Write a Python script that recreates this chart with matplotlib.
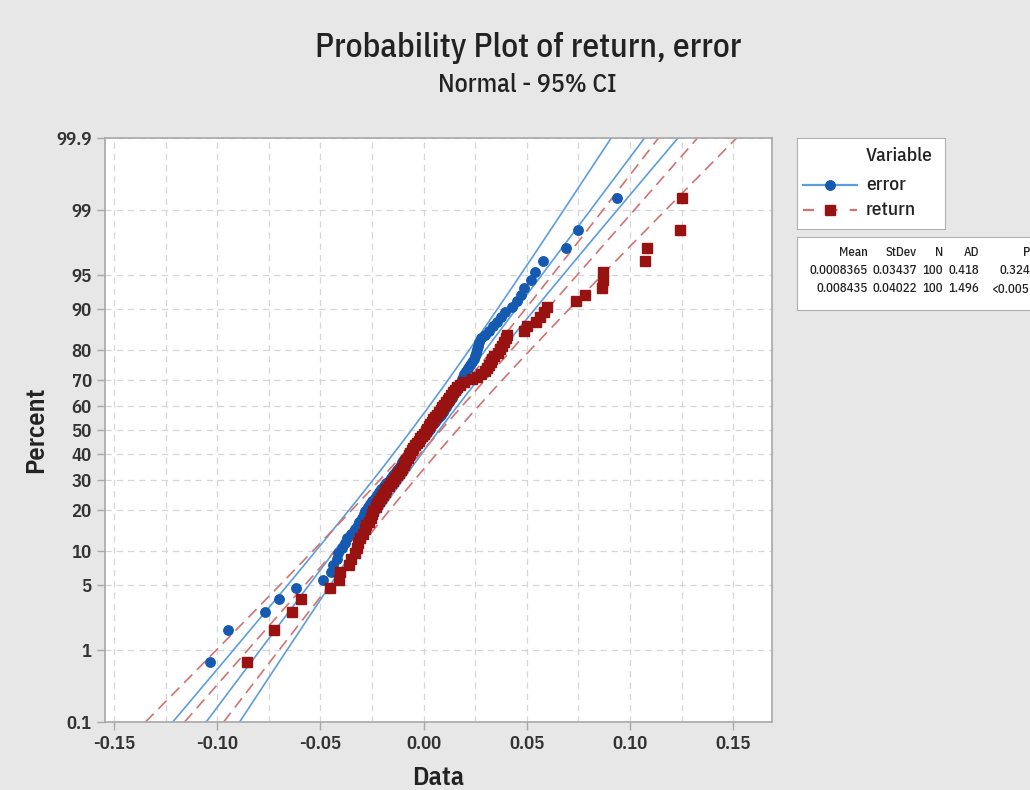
import matplotlib
matplotlib.use('Agg')
import matplotlib.pyplot as plt
from matplotlib.lines import Line2D
from matplotlib.ticker import MultipleLocator
from statistics import NormalDist
import numpy as np

# sorted sample values
error = [-0.1035, -0.0950, -0.0767, -0.0699, -0.0618, -0.0489, -0.0448, -0.0440, -0.0422, -0.0413,
         -0.0398, -0.0383, -0.0369, -0.0350, -0.0335, -0.0320, -0.0311, -0.0301, -0.0291, -0.0282,
         -0.0272, -0.0262, -0.0252, -0.0238, -0.0228, -0.0218, -0.0209, -0.0194, -0.0184, -0.0170,
         -0.0160, -0.0150, -0.0141, -0.0131, -0.0121, -0.0112, -0.0107, -0.0097, -0.0087, -0.0078,
         -0.0068, -0.0058, -0.0049, -0.0039, -0.0029, -0.0019, -0.0010, 0.0000, 0.0010, 0.0019,
         0.0029, 0.0034, 0.0044, 0.0053, 0.0063, 0.0073, 0.0083, 0.0092, 0.0097, 0.0107,
         0.0112, 0.0121, 0.0126, 0.0136, 0.0141, 0.0150, 0.0160, 0.0165, 0.0170, 0.0180,
         0.0184, 0.0189, 0.0194, 0.0204, 0.0214, 0.0223, 0.0233, 0.0243, 0.0248, 0.0252,
         0.0257, 0.0262, 0.0267, 0.0277, 0.0296, 0.0316, 0.0335, 0.0354, 0.0374, 0.0393,
         0.0427, 0.0451, 0.0471, 0.0485, 0.0519, 0.0539, 0.0578, 0.0689, 0.0748, 0.0937]

ret = [-0.0858, -0.0723, -0.0637, -0.0594, -0.0456, -0.0408, -0.0405, -0.0364, -0.0350, -0.0335,
       -0.0325, -0.0316, -0.0306, -0.0296, -0.0286, -0.0277, -0.0267, -0.0257, -0.0252, -0.0243,
       -0.0233, -0.0228, -0.0218, -0.0209, -0.0199, -0.0189, -0.0180, -0.0170, -0.0160, -0.0150,
       -0.0141, -0.0131, -0.0121, -0.0112, -0.0107, -0.0097, -0.0092, -0.0087, -0.0078, -0.0073,
       -0.0068, -0.0058, -0.0053, -0.0044, -0.0034, -0.0024, -0.0019, -0.0010, 0.0000, 0.0010,
       0.0015, 0.0024, 0.0029, 0.0039, 0.0044, 0.0053, 0.0063, 0.0073, 0.0083, 0.0087,
       0.0097, 0.0107, 0.0117, 0.0121, 0.0131, 0.0141, 0.0150, 0.0160, 0.0175, 0.0194,
       0.0233, 0.0257, 0.0277, 0.0296, 0.0306, 0.0316, 0.0325, 0.0330, 0.0340, 0.0359,
       0.0369, 0.0379, 0.0388, 0.0398, 0.0403, 0.0485, 0.0500, 0.0544, 0.0563, 0.0583,
       0.0597, 0.0740, 0.0782, 0.0862, 0.0867, 0.0871, 0.1073, 0.1083, 0.1243, 0.1254]

# summary table (as printed by the plot)
stats_header = ['Mean', 'StDev', 'N', 'AD', 'P']
error_stats = ['0.0008365', '0.03437', '100', '0.418', '0.324']
return_stats = ['0.008435', '0.04022', '100', '1.496', '<0.005']
error_mean, error_sd = 0.0008365, 0.03437
return_mean, return_sd = 0.008435, 0.04022

y_ticks = [0.1, 1, 5, 10, 20, 30, 40, 50, 60, 70, 80, 90, 95, 99, 99.9]
y_labels = ['0.1', '1', '5', '10', '20', '30', '40', '50', '60', '70', '80', '90', '95', '99', '99.9']
x_ticks = [-0.15, -0.10, -0.05, 0.00, 0.05, 0.10, 0.15]

BLUE_PT = '#1559b0'
BLUE_LN = '#5b9de0'
RED_PT = '#981212'
RED_LN = '#d27272'
BG = '#e7e7e7'
TXT = '#222222'

plt.rcParams['font.family'] = ['IBM Plex Sans Condensed', 'DejaVu Sans']

nd = NormalDist()
z = lambda p: nd.inv_cdf(p / 100.0)
z975 = nd.inv_cdf(0.975)

fig = plt.figure(figsize=(10.3, 7.9), dpi=100, facecolor=BG)
ax = fig.add_axes([105 / 1030, 1 - 722 / 790, 667 / 1030, 584 / 790])
ax.set_facecolor('white')


def prob_plot(data, mean, sd, pt_color, ln_color, ls, marker, msize):
    n = len(data)
    x = np.sort(np.array(data))
    ranks = np.arange(1, n + 1)
    pos = [nd.inv_cdf((i - 0.3) / (n + 0.4)) for i in ranks]
    zs = np.linspace(z(0.1), z(99.9), 300)
    fit = mean + sd * zs
    half = z975 * sd * np.sqrt((1 + zs ** 2 / 2) / n)
    for xx in (fit - half, fit, fit + half):
        ax.plot(xx, zs, color=ln_color, lw=1.2, ls=ls, zorder=2)
    ax.plot(x, pos, ls='none', marker=marker, ms=msize, color=pt_color,
            mec=pt_color, zorder=3)


prob_plot(error, error_mean, error_sd, BLUE_PT, BLUE_LN, '-', 'o', 6.8)
prob_plot(ret, return_mean, return_sd, RED_PT, RED_LN, (0, (7, 4)), 's', 7.0)

ax.set_xlim(-0.1544, 0.1688)
ax.set_ylim(z(0.1), z(99.9))
ax.set_xticks(x_ticks)
ax.set_xticklabels(['%.2f' % t for t in x_ticks])
ax.xaxis.set_minor_locator(MultipleLocator(0.025))
ax.set_yticks([z(t) for t in y_ticks])
ax.set_yticklabels(y_labels)

ax.grid(True, which='both', axis='x', ls=(0, (5, 4)), color='#d6d6d6', lw=0.9)
ax.grid(True, which='major', axis='y', ls=(0, (5, 4)), color='#d6d6d6', lw=0.9)
ax.set_axisbelow(True)
ax.tick_params(which='major', direction='out', length=6, width=1, color='#a8a8a8',
               labelsize=13.5, labelcolor='#333333')
for lab in ax.get_xticklabels() + ax.get_yticklabels():
    lab.set_fontweight(600)
ax.tick_params(which='minor', length=0)
for s in ax.spines.values():
    s.set_color('#a8a8a8')
    s.set_linewidth(1.2)

ax.set_xlabel('Data', fontsize=19, color=TXT, fontweight=600)
ax.xaxis.set_label_coords(0.5, -0.075)
ax.set_ylabel('Percent', fontsize=19, color=TXT, fontweight=600)
ax.yaxis.set_label_coords(-0.086, 0.5)

fig.text(528 / 1030, 1 - 48 / 790, 'Probability Plot of return, error', ha='center',
         va='center', fontsize=24, color=TXT, fontweight=500)
fig.text(527 / 1030, 1 - 85 / 790, 'Normal - 95% CI', ha='center', va='center',
         fontsize=18.5, color=TXT, fontweight=500)

# legend box
lg = fig.add_axes([797 / 1030, 1 - 229 / 790, 148 / 1030, 91 / 790])
lg.set_xlim(0, 148)
lg.set_ylim(91, 0)
lg.set_xticks([])
lg.set_yticks([])
for s in lg.spines.values():
    s.set_color('#b0b0b0')
lg.text(69, 18, 'Variable', fontsize=14, va='center', color=TXT, fontweight=500)
lg.add_line(Line2D([6, 60], [47, 47], color=BLUE_LN, lw=1.6))
lg.plot([33], [47], marker='o', ms=6.8, color=BLUE_PT)
lg.text(69, 47, 'error', fontsize=14, va='center', color=TXT, fontweight=500)
lg.add_line(Line2D([6, 60], [72, 72], color=RED_LN, lw=1.6, ls=(0, (5, 5.5))))
lg.plot([33], [72], marker='s', ms=7.0, color=RED_PT)
lg.text(69, 72, 'return', fontsize=14, va='center', color=TXT, fontweight=500)

# stats table
tb = fig.add_axes([797 / 1030, 1 - 310 / 790, 240 / 1030, 73 / 790])
tb.set_xlim(797, 1037)
tb.set_ylim(310, 237)
tb.set_xticks([])
tb.set_yticks([])
for s in tb.spines.values():
    s.set_color('#b0b0b0')
col_right = [868, 917, 943, 979, 1030]
for row, yy in zip([stats_header, error_stats, return_stats], [253, 271, 289]):
    for txt, xx in zip(row, col_right):
        tb.text(xx, yy, txt, ha='right', va='center', fontsize=9.2, color=TXT,
                fontweight=500)

fig.savefig('out.png', dpi=100, facecolor=BG)
